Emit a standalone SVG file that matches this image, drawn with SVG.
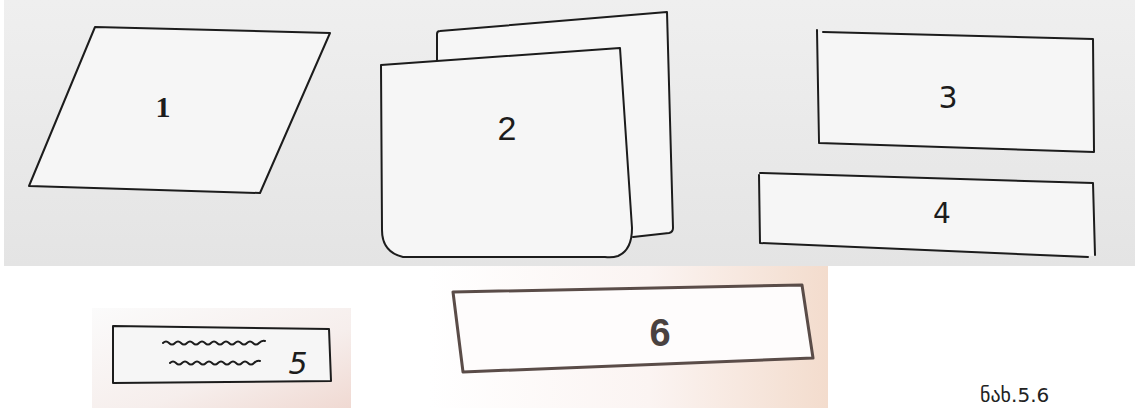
<svg xmlns="http://www.w3.org/2000/svg" width="1135" height="408" viewBox="0 0 1135 408">
<defs>
<linearGradient id="bg5" x1="0" y1="0" x2="1" y2="1">
<stop offset="0" stop-color="#fbfbfb"/>
<stop offset="0.6" stop-color="#f6eeec"/>
<stop offset="1" stop-color="#f0d9d2"/>
</linearGradient>
<linearGradient id="bg6" x1="0" y1="0" x2="1" y2="0">
<stop offset="0" stop-color="#ffffff"/>
<stop offset="0.55" stop-color="#fbf4f2"/>
<stop offset="1" stop-color="#f3dccd"/>
</linearGradient>
<linearGradient id="bgTop" x1="0" y1="0" x2="0" y2="1">
<stop offset="0" stop-color="#efefef"/>
<stop offset="1" stop-color="#e4e4e4"/>
</linearGradient>
</defs>
<style>
.ln{fill:none;stroke:#1c1c1c;stroke-width:2;stroke-linejoin:round;stroke-linecap:round}
.fl{fill:#f6f6f6;stroke:#1c1c1c;stroke-width:2;stroke-linejoin:round;stroke-linecap:round}
.pf{fill:#f6f6f6;stroke:none}
.lb{font-family:"Liberation Sans",Arial,sans-serif;fill:#1c1c1c}
.hw{font-family:"DejaVu Sans","Liberation Sans",sans-serif;fill:#1c1c1c}
</style>
<rect x="0" y="0" width="1135" height="408" fill="#ffffff"/>
<rect x="4" y="0" width="1131" height="266" fill="url(#bgTop)"/>
<rect x="92" y="308" width="259" height="100" fill="url(#bg5)"/>
<rect x="430" y="266" width="398" height="142" fill="url(#bg6)"/>

<g id="node1">
<polygon class="fl" points="95,27 330,33 260,193 29,186"/>
<text x="163" y="117" font-size="30" text-anchor="middle" font-family="'Liberation Serif',serif" font-weight="bold" fill="#1c1c1c">1</text>
</g>

<g id="node2">
<polygon class="pf" points="437,60 437,31 667,12 673,232 633,237"/>
<path class="ln" d="M437,60 L437,34 Q437,31 440,31 L667,12 L673,228 Q673,232 669,233 L633,237"/>
<path class="fl" d="M381,65 L620,48 L632,228 Q632,250 618,256 Q612,258 605,257 L403,257 Q382,252 382,230 Z" fill="#fafafa"/>
<text class="lb" x="507" y="140" font-size="34" text-anchor="middle">2</text>
</g>

<g id="node3">
<polygon class="pf" points="817,32 1093,39 1094,152 817,143"/>
<path class="ln" d="M823,32 L1093,39 L1094,152 L819,143 L817,30"/>
<text class="hw" x="948" y="108" font-size="30" text-anchor="middle">3</text>
</g>

<g id="node4">
<polygon class="pf" points="760,173 1093,183 1095,256 760,243"/>
<path class="ln" d="M760,173 L1093,183 L1095,255 M1088,257 L760,243 L759,175"/>
<text class="hw" x="942" y="223" font-size="28" text-anchor="middle">4</text>
</g>

<g id="node5">
<path class="fl" d="M113,326 L329,329 L331,381 L113,383 Z" fill="#fdfbfb"/>
<path class="ln" stroke-width="1.8" d="M163,343 q3,-3 6,0 t6,0 t6,0 t6,0 t6,0 t6,0 t6,0 t6,0 t6,0 t6,0 t6,0 t6,0 t6,0 t6,0 t6,0 t6,0 t6,-2"/>
<path class="ln" stroke-width="1.8" d="M170,363 q3,-3 6,0 t6,0 t6,0 t6,0 t6,0 t6,0 t6,0 t6,0 t6,0 t6,0 t6,0 t6,0 t6,0 t6,0 t6,-2"/>
<text class="hw" x="298" y="374" font-size="30" font-style="italic" text-anchor="middle">5</text>
</g>

<g id="node6">
<path d="M453,292 L802,285 L813,358 L463,372 Z" fill="#fefcfc" stroke="#5a4c48" stroke-width="3" stroke-linejoin="round"/>
<text x="660" y="346" font-size="38" font-weight="bold" text-anchor="middle" font-family="'Liberation Sans',Arial,sans-serif" fill="#4a4240">6</text>
</g>

<g id="connectors"></g>

<text x="980" y="402" font-size="20" font-family="'DejaVu Sans','Noto Sans',sans-serif" fill="#222">ნახ.5.6</text>
</svg>
